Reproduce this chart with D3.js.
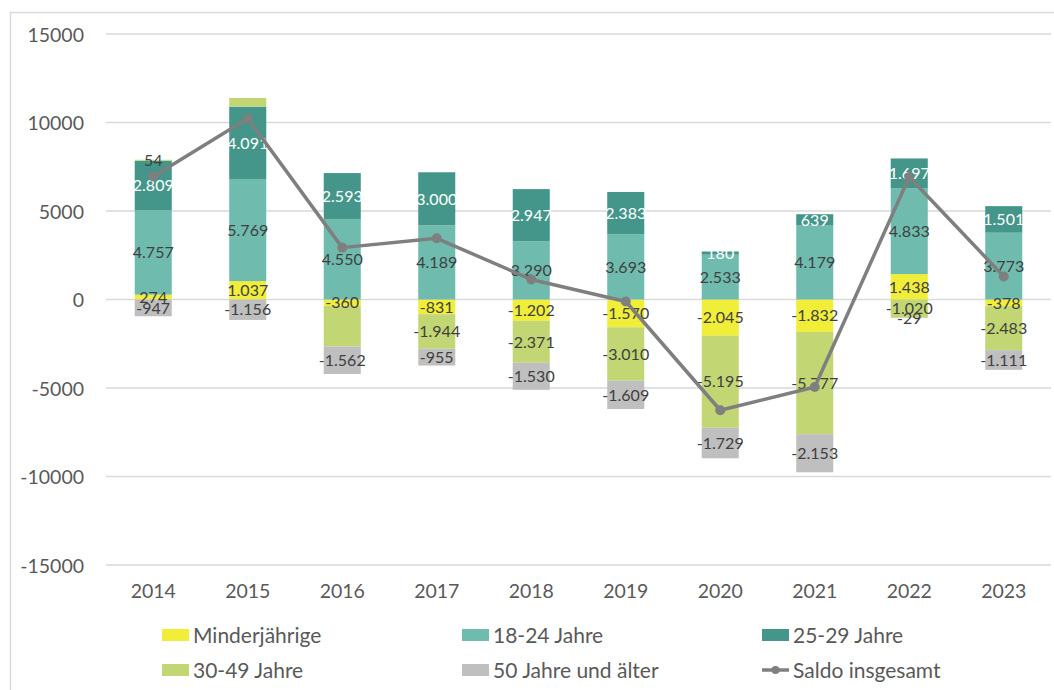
<!DOCTYPE html>
<html>
<head>
<meta charset="utf-8">
<script src="https://cdn.jsdelivr.net/npm/d3@7"></script>
<style>
  html, body { margin: 0; padding: 0; background: #ffffff; }
  svg { display: block; }
  text { font-family: Lato, "Noto Sans", sans-serif; }
</style>
</head>
<body>
<svg id="chart" width="1054" height="690"></svg>
<script>
// ---------- data ----------
const years = ["2014","2015","2016","2017","2018","2019","2020","2021","2022","2023"];
const seriesNames = ["Minderjährige","18-24 Jahre","25-29 Jahre","30-49 Jahre","50 Jahre und älter"];
const minderjaehrige = [274, 1037, -360, -831, -1202, -1570, -2045, -1832, 1438, -378];
const jahre18_24 = [4757, 5769, 4550, 4189, 3290, 3693, 2533, 4179, 4833, 3773];
const jahre25_29 = [2809, 4091, 2593, 3000, 2947, 2383, 180, 639, 1697, 1501];
const jahre30_49 = [54, 490, -2290, -1944, -2371, -3010, -5195, -5777, -1020, -2483];
const jahre50plus = [-947, -1156, -1562, -955, -1530, -1609, -1729, -2153, -29, -1111];
const saldoInsgesamt = [6947, 10231, 2931, 3459, 1134, -113, -6256, -4944, 6919, 1302];
const yTicks = [-15000, -10000, -5000, 0, 5000, 10000, 15000];
const hiddenLabels = [["30-49 Jahre","2015"], ["30-49 Jahre","2016"]];
const seriesColors = ["#f0ee38", "#6fbcaf", "#45968a", "#c2d674", "#bfbfbf"];
const labelColors = ["#404040", "#404040", "#ffffff", "#404040", "#404040"];
const lineColor = "#7f7f7f";

const seriesValues = [minderjaehrige, jahre18_24, jahre25_29, jahre30_49, jahre50plus];
const table = years.map((y, i) => {
  const row = { year: y };
  seriesNames.forEach((s, k) => row[s] = seriesValues[k][i]);
  return row;
});

// ---------- setup ----------
const svg = d3.select("#chart");
const W = 1054, H = 690;
const plot = { left: 106, right: 1051, top: 34, bottom: 565 };

const de = d3.formatLocale({ decimal: ",", thousands: ".", grouping: [3], currency: ["", "€"], minus: "-" });
const fmt = de.format(",d");

const x = d3.scaleBand().domain(years).range([plot.left, plot.right])
  .paddingInner(0.608).paddingOuter(0.304);
const y = d3.scaleLinear().domain([-15000, 15000]).range([plot.bottom, plot.top]);

// frame
svg.append("rect").attr("x", 10.5).attr("y", 12.5).attr("width", W + 10).attr("height", H + 10)
  .attr("fill", "none").attr("stroke", "#d9d9d9").attr("stroke-width", 1.5);

// gridlines
svg.append("g").selectAll("line").data(yTicks).join("line")
  .attr("x1", plot.left).attr("x2", plot.right)
  .attr("y1", d => y(d)).attr("y2", d => y(d))
  .attr("stroke", "#d9d9d9").attr("stroke-width", 1.5);

// y axis labels
const yAxis = d3.axisLeft(y).tickValues(yTicks).tickSize(0).tickPadding(0)
  .tickFormat(d => String(d).replace("−", "-"));
const yg = svg.append("g").attr("transform", "translate(84,0)").call(yAxis);
yg.select(".domain").remove();
yg.selectAll("text").attr("fill", "#595959").style("font-size", "19.5px")
  .style("font-family", "Lato, 'Noto Sans', sans-serif").attr("dy", "0.36em");

// x axis labels
const xAxis = d3.axisBottom(x).tickSize(0).tickPadding(0);
const xg = svg.append("g").attr("transform", "translate(0,591)").call(xAxis);
xg.select(".domain").remove();
xg.selectAll("text").attr("fill", "#595959").style("font-size", "19.5px")
  .style("font-family", "Lato, 'Noto Sans', sans-serif").attr("dy", "0.36em");

// stacked bars
const stack = d3.stack().keys(seriesNames).offset(d3.stackOffsetDiverging);
const stacked = stack(table);

const barG = svg.append("g");
stacked.forEach((layer, k) => {
  barG.append("g").attr("fill", seriesColors[k])
    .selectAll("rect").data(layer).join("rect")
    .attr("x", d => x(d.data.year))
    .attr("width", x.bandwidth())
    .attr("y", d => y(Math.max(d[0], d[1])))
    .attr("height", d => Math.abs(y(d[0]) - y(d[1])));
});

// data labels
const labG = svg.append("g");
stacked.forEach((layer, k) => {
  const name = seriesNames[k];
  labG.append("g").selectAll("text")
    .data(layer.filter(d => !hiddenLabels.some(h => h[0] === name && h[1] === d.data.year)))
    .join("text")
    .attr("x", d => x(d.data.year) + x.bandwidth() / 2)
    .attr("y", d => y((d[0] + d[1]) / 2))
    .attr("dy", "0.36em")
    .attr("text-anchor", "middle")
    .attr("fill", labelColors[k])
    .style("font-size", "16px")
    .text(d => fmt(d.data[name]));
});

// saldo line
const line = d3.line().x((d, i) => x(years[i]) + x.bandwidth() / 2).y(d => y(d));
svg.append("path").datum(saldoInsgesamt).attr("d", line)
  .attr("fill", "none").attr("stroke", lineColor).attr("stroke-width", 3.5)
  .attr("stroke-linejoin", "round");
svg.append("g").selectAll("circle").data(saldoInsgesamt).join("circle")
  .attr("cx", (d, i) => x(years[i]) + x.bandwidth() / 2)
  .attr("cy", d => y(d)).attr("r", 5).attr("fill", lineColor);

// legend
const legendItems = [
  { name: "Minderjährige", color: seriesColors[0], type: "rect", col: 0, row: 0 },
  { name: "18-24 Jahre", color: seriesColors[1], type: "rect", col: 1, row: 0 },
  { name: "25-29 Jahre", color: seriesColors[2], type: "rect", col: 2, row: 0 },
  { name: "30-49 Jahre", color: seriesColors[3], type: "rect", col: 0, row: 1 },
  { name: "50 Jahre und älter", color: seriesColors[4], type: "rect", col: 1, row: 1 },
  { name: "Saldo insgesamt", color: lineColor, type: "line", col: 2, row: 1 }
];
const colX = [162, 462, 762];
const rowY = [635, 670];
const lg = svg.append("g");
legendItems.forEach(it => {
  const gx = colX[it.col], gy = rowY[it.row];
  const g = lg.append("g").attr("transform", `translate(${gx},${gy})`);
  if (it.type === "rect") {
    g.append("rect").attr("x", 0).attr("y", -6).attr("width", 27).attr("height", 12).attr("fill", it.color);
  } else {
    g.append("line").attr("x1", 0).attr("x2", 27).attr("y1", 0).attr("y2", 0)
      .attr("stroke", it.color).attr("stroke-width", 3.5);
    g.append("circle").attr("cx", 13.5).attr("cy", 0).attr("r", 4).attr("fill", it.color);
  }
  g.append("text").attr("x", 31).attr("y", 0).attr("dy", "0.36em")
    .attr("fill", "#595959").style("font-size", "21px").text(it.name);
});
</script>
</body>
</html>
